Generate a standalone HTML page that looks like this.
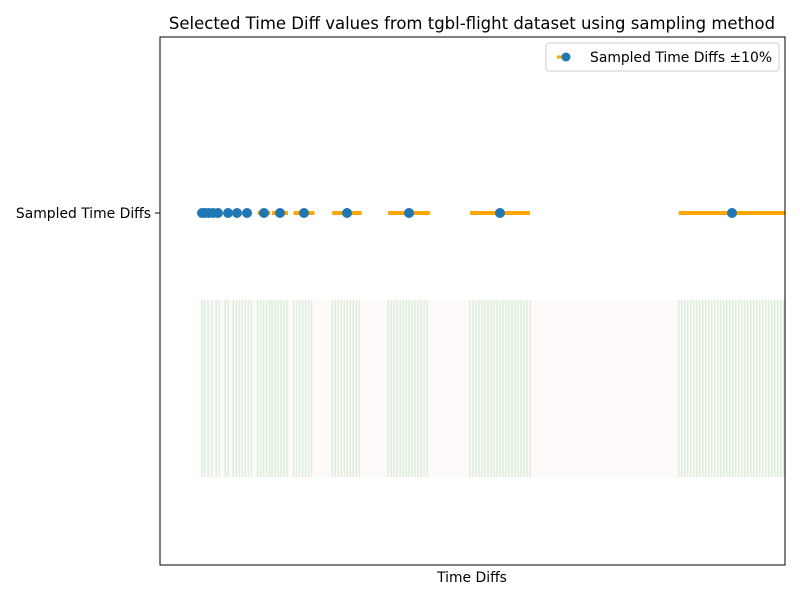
<!DOCTYPE html>
<html><head><meta charset="utf-8"><style>
body{margin:0;background:#fff;font-family:"DejaVu Sans","Liberation Sans",sans-serif;}
svg text{font-family:"DejaVu Sans","Liberation Sans",sans-serif;}
</style></head><body>
<svg id="chart" width="800" height="600" xmlns="http://www.w3.org/2000/svg">
<text x="472" y="29" font-size="16.5" text-anchor="middle">Selected Time Diff values from tgbl-flight dataset using sampling method</text>
<g id="bands"></g>
<g id="marks"></g>
<rect x="160" y="37" width="625" height="528" fill="none" stroke="#000" stroke-width="1"/>
<line x1="155" y1="213" x2="160" y2="213" stroke="#000"/>
<text x="151" y="218" font-size="13.9" text-anchor="end">Sampled Time Diffs</text>
<text x="472" y="582" font-size="13.9" text-anchor="middle">Time Diffs</text>
<g>
<rect x="546" y="43" width="233" height="28" rx="3" fill="#fff" stroke="#ccc"/>
<line x1="557" y1="57" x2="569" y2="57" stroke="#ffa500" stroke-width="3"/>
<circle cx="566" cy="57" r="4.5" fill="#1f77b4"/>
<text x="590" y="62" font-size="13.9">Sampled Time Diffs ±10%</text>
</g>
</svg>
<script>
const timeDiffs = [2, 5, 9, 13, 18, 28, 37, 47, 64, 80, 104, 147, 209, 300, 532];
const errorFraction = 0.1;
const xMin = -40, xMax = 585;
function xScale(v){ return 160 + (v - xMin) / (xMax - xMin) * 625; }
const NS = "http://www.w3.org/2000/svg";
const bands = document.getElementById('bands');
const marks = document.getElementById('marks');
const bg = document.createElementNS(NS,'rect');
bg.setAttribute('x', xScale(timeDiffs[0]*(1-errorFraction)));
bg.setAttribute('y', 300);
bg.setAttribute('width', 785 - xScale(timeDiffs[0]*(1-errorFraction)));
bg.setAttribute('height', 177);
bg.setAttribute('fill', '#fffafa');


bands.appendChild(bg);
timeDiffs.forEach(v => {
  const a = xScale(v*(1-errorFraction)), b = Math.min(785, xScale(v*(1+errorFraction)));
  for (let x = a; x <= b; x += 3) {
    const l = document.createElementNS(NS,'line');
    l.setAttribute('x1', x); l.setAttribute('x2', x);
    l.setAttribute('y1', 300); l.setAttribute('y2', 477);
    l.setAttribute('stroke', '#dcefdc'); l.setAttribute('stroke-width', 1.6);
    
    
    bands.appendChild(l);
  }
});
timeDiffs.forEach(v => {
  const e = document.createElementNS(NS,'line');
  e.setAttribute('x1', xScale(v*(1-errorFraction)));
  e.setAttribute('x2', Math.min(785, xScale(v*(1+errorFraction))));
  e.setAttribute('y1', 213); e.setAttribute('y2', 213);
  e.setAttribute('stroke', '#ffa500'); e.setAttribute('stroke-width', 4);
  
  
  marks.appendChild(e);
});
timeDiffs.forEach(v => {
  const c = document.createElementNS(NS,'circle');
  c.setAttribute('cx', xScale(v)); c.setAttribute('cy', 213); c.setAttribute('r', 5);
  c.setAttribute('fill', '#1f77b4');
  
  
  marks.appendChild(c);
});
</script>
</body></html>
